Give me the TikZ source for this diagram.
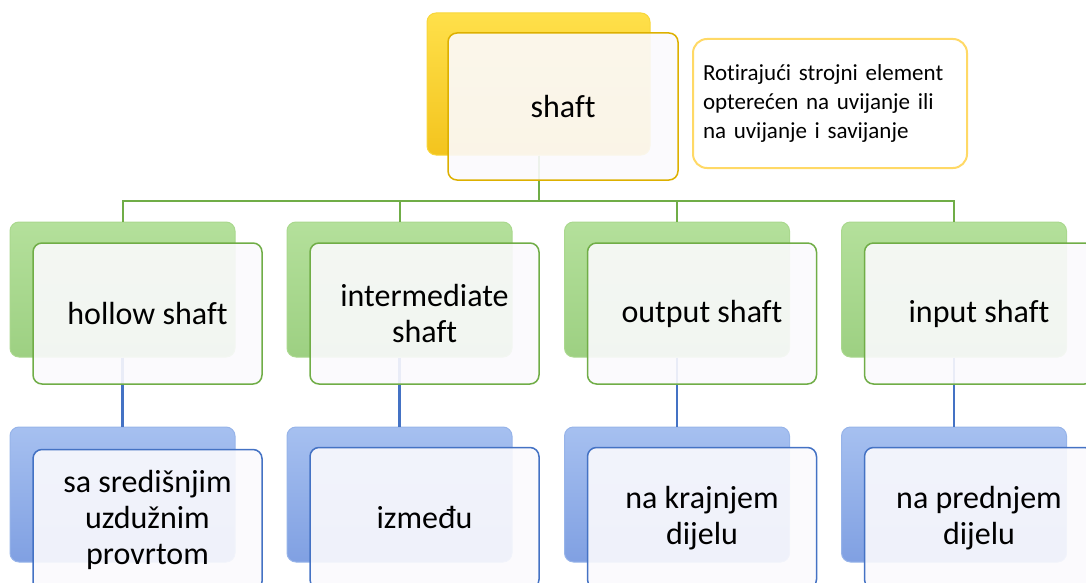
\documentclass[tikz,border=0pt]{standalone}
\usepackage{fontspec}
\setmainfont{Carlito}[Ligatures=NoCommon]
\usetikzlibrary{positioning}

\definecolor{goldline}{HTML}{DDB000}
\definecolor{goldtop}{HTML}{FFE04A}
\definecolor{goldbot}{HTML}{F3C41E}
\definecolor{noteline}{HTML}{FFD966}
\definecolor{leafline}{HTML}{70AD47}
\definecolor{leaftop}{HTML}{B4E09B}
\definecolor{leafbot}{HTML}{9DD082}
\definecolor{sealine}{HTML}{4472C4}
\definecolor{seatop}{HTML}{A6C0F0}
\definecolor{seabot}{HTML}{80A0E2}
\definecolor{paper}{HTML}{FBFAFD}

\begin{document}
\begin{tikzpicture}[x=1pt,y=-1pt]
        \tikzstyle{every node}=[font=\fontsize{32}{36}\selectfont]
        \tikzstyle{backbox}=[rounded corners=9pt, minimum width=225pt, minimum height=135pt, inner sep=0pt, line width=1pt]
        \tikzstyle{frontbox}=[rounded corners=9pt, minimum width=229pt, minimum height=141pt, inner sep=0pt, align=center, fill=paper, fill opacity=.9, text opacity=1, line width=1.5pt]
        \tikzstyle{goldback}=[backbox, top color=goldtop, bottom color=goldbot, draw=goldtop!80!goldline]
        \tikzstyle{leafback}=[backbox, top color=leaftop, bottom color=leafbot, draw=leaftop!85!leafline]
        \tikzstyle{seaback}=[backbox, top color=seatop, bottom color=seabot, draw=seatop!85!sealine]
        \tikzstyle{leafwire}=[draw=leafline, line width=2pt]
        \tikzstyle{seawire}=[draw=sealine, line width=2.5pt]

        \useasboundingbox (0,0) rectangle (1086,583);
        \clip (0,0) rectangle (1086,583);

        % back plates
        \node[goldback, minimum width=223pt, minimum height=142pt] (shaftbg) at (538.5,84) {};
        \node[leafback] (hollowbg) at (122.5,289.5) {};
        \node[leafback] (middlebg) at (399.5,289.5) {};
        \node[leafback] (outputbg) at (677,289.5) {};
        \node[leafback] (inputbg) at (954,289.5) {};
        \node[seaback] (borebg) at (122.5,494.5) {};
        \node[seaback] (betweenbg) at (399.5,494.5) {};
        \node[seaback] (rearbg) at (677,494.5) {};
        \node[seaback] (frontpartbg) at (954,494.5) {};

        % connectors
        \draw[leafwire] (shaftbg.south) -- ++(0,45) -| (hollowbg.north);
        \draw[leafwire] (shaftbg.south) -- ++(0,45) -| (middlebg.north);
        \draw[leafwire] (shaftbg.south) -- ++(0,45) -| (outputbg.north);
        \draw[leafwire] (shaftbg.south) -- ++(0,45) -| (inputbg.north);
        \draw[seawire] (hollowbg.south) -- (borebg.north);
        \draw[seawire] (middlebg.south) -- (betweenbg.north);
        \draw[seawire] (outputbg.south) -- (rearbg.north);
        \draw[seawire] (inputbg.south) -- (frontpartbg.north);

        % front cards
        \node[frontbox, draw=goldline, minimum width=230pt, minimum height=147pt] (shaft) at (563,106.5) {shaft};
        \node[frontbox, draw=leafline] (hollow) at (147.5,313.5) {hollow shaft};
        \node[frontbox, draw=leafline] (middle) at (424.5,313.5) {intermediate\\shaft};
        \node[frontbox, draw=leafline] (output) at (702,313.5) {output shaft};
        \node[frontbox, draw=leafline] (input) at (979,313.5) {input shaft};
        \node[frontbox, draw=sealine] (bore) at (147.5,520) {sa središnjim\\uzdužnim\\provrtom};
        \node[frontbox, draw=sealine] (between) at (424.5,518) {između};
        \node[frontbox, draw=sealine] (rear) at (702,518) {na krajnjem\\dijelu};
        \node[frontbox, draw=sealine] (frontpart) at (979,518) {na prednjem\\dijelu};

        \node[draw=noteline, fill=white, line width=2pt, rounded corners=14pt, minimum width=274pt, minimum height=129pt, inner xsep=10pt, text width=254pt, align=left, font=\fontsize{23}{29}\selectfont] (note) at (830,103.5) {Rotirajući strojni element\\opterećen na uvijanje ili\\na uvijanje i savijanje};
\end{tikzpicture}
\end{document}
